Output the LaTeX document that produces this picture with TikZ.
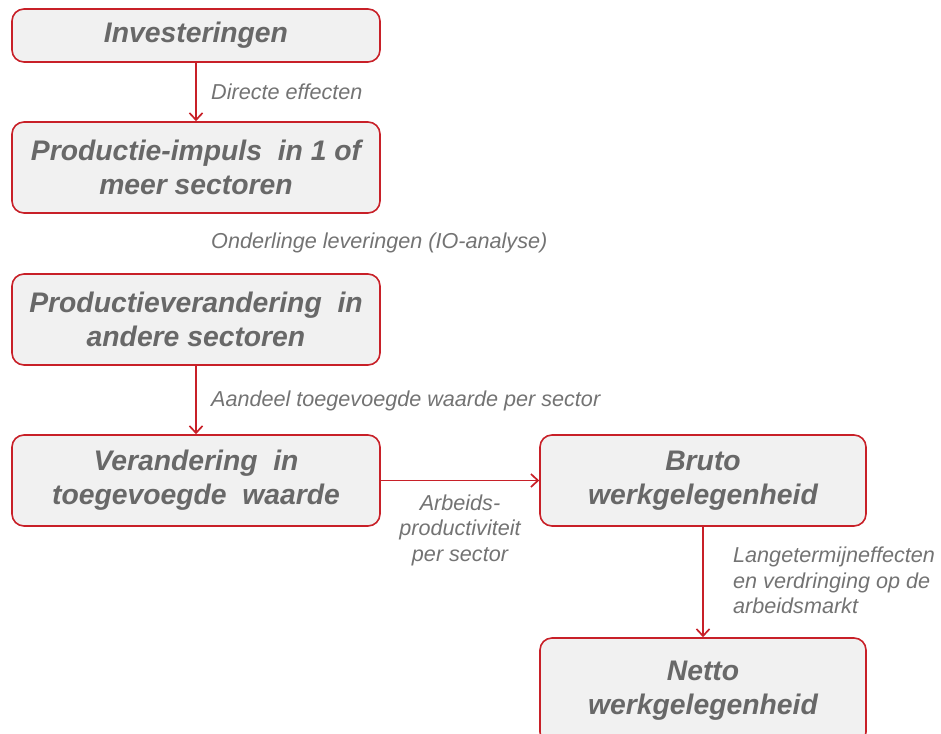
\documentclass[tikz,border=0pt]{standalone}
\usepackage{fontspec}
\setmainfont{Liberation Sans}
\usetikzlibrary{arrows.meta}
\definecolor{boxred}{RGB}{200,32,40}
\definecolor{boxfill}{RGB}{241,241,241}
\definecolor{titlegray}{RGB}{104,104,104}
\definecolor{labelgray}{RGB}{115,115,115}
\tikzset{
  stepbox/.style={draw=boxred, line width=1.6pt, fill=boxfill, rounded corners=12pt,
    align=center, text=titlegray, inner sep=0pt,
    font=\fontsize{28.3}{34}\selectfont\bfseries\itshape},
  flow/.style={draw=boxred, line width=1.7pt, -{Straight Barb[length=7pt,width=13pt,line width=1.7pt]}},
  note/.style={text=labelgray, inner sep=0pt, font=\fontsize{21.6}{25.5}\selectfont\itshape}
}
\begin{document}
\begin{tikzpicture}[x=1pt,y=-1pt]
\useasboundingbox (0,0) rectangle (941,733);
\clip (0,0) rectangle (941,733);
% boxes
\node[stepbox, minimum width=368pt, minimum height=53pt] (inv) at (196,35.5) {Investeringen};
\node[stepbox, minimum width=368pt, minimum height=91pt] (imp) at (196,167.5) {Productie-impuls\ \ in 1 of\\meer sectoren};
\node[stepbox, minimum width=368pt, minimum height=91pt] (prod) at (196,319.5) {Productieverandering\ \ in\\andere sectoren};
\node[stepbox, minimum width=368pt, minimum height=91pt] (tw) at (196,480.5) {Verandering\ \ in\\toegevoegde\ \ waarde};
\node[stepbox, minimum width=326pt, minimum height=91pt] (bruto) at (703,480.5) {Bruto\\werkgelegenheid};
\node[stepbox, minimum width=326pt, minimum height=106pt] (netto) at (703,691) {Netto\\werkgelegenheid};
% connectors
\draw[flow] (inv) -- (imp);
\draw[flow] (prod) -- (tw);
\draw[flow] (tw) -- (bruto);
\draw[flow] (bruto) -- (netto);
% labels
\node[note, anchor=west] (l1) at (211,92) {Directe effecten};
\node[note, anchor=west] (l2) at (211,243) {Onderlinge leveringen (IO-analyse)};
\node[note, anchor=west] (l3) at (211,401) {Aandeel toegevoegde waarde per sector};
\node[note, align=center] (l4) at (460,530) {Arbeids-\\productiviteit\\per sector};
\node[note, align=left, anchor=west] (l5) at (733,580.5) {Langetermijneffecten\\en verdringing op de\\arbeidsmarkt};
\end{tikzpicture}
\end{document}
